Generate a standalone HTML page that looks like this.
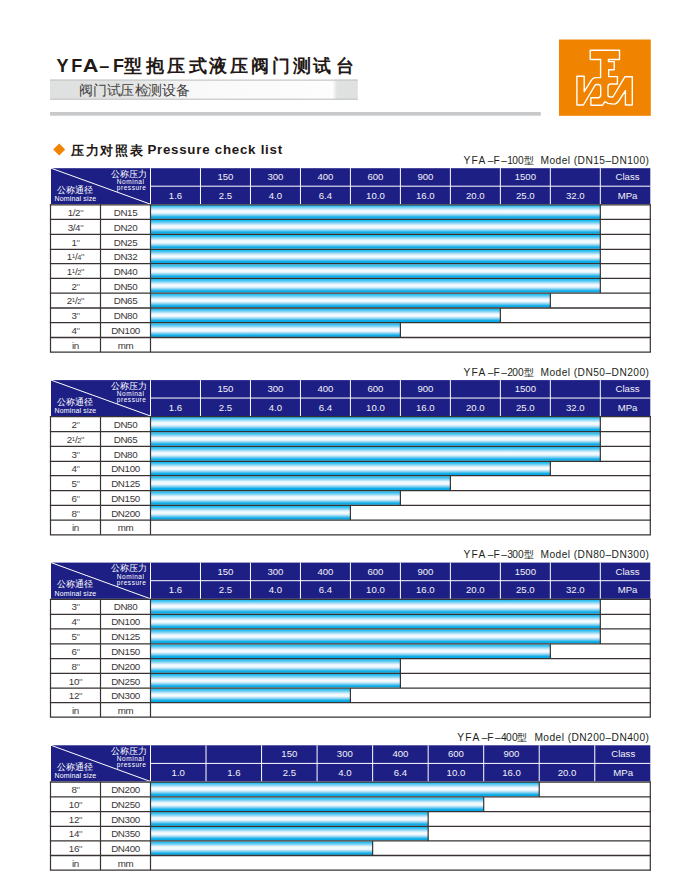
<!DOCTYPE html>
<html><head><meta charset="utf-8"><style>
html,body{margin:0;padding:0;background:#fff;}
body{width:696px;height:880px;position:relative;overflow:hidden;font-family:"Liberation Sans", sans-serif;}
svg{position:absolute;left:0;top:0;}
svg text{font-family:"Liberation Sans", sans-serif;}
.h{fill:#f2f2f8;font-size:9.6px;text-anchor:middle;}
.c{fill:#3a3636;font-size:9.8px;text-anchor:middle;letter-spacing:-0.35px}
.q{fill:#6e6a69;font-size:9.8px}
.cjk{fill:#fff;font-size:9px;}
.en{fill:#fff;font-size:7px;letter-spacing:0.15px}
.lbl2{fill:#231f20;font-size:10.2px;}
.lbl{fill:#231f20;font-size:10.2px;letter-spacing:0.45px}
.tl{fill:#231815;font-size:18px;font-weight:bold}
.tc{fill:#231815;font-size:17.6px;font-weight:bold}
.sb{fill:#454241;font-size:13.6px}
.hc{fill:#231815;font-size:13.2px;font-weight:bold}
.he{fill:#231815;font-size:13.3px;font-weight:bold;letter-spacing:0.75px}
.en2{fill:#fff;font-size:6.5px;letter-spacing:0.55px}
</style></head><body>
<svg width="696" height="880" viewBox="0 0 696 880">
<defs><linearGradient id="bar" x1="0" y1="0" x2="0" y2="1"><stop offset="0" stop-color="#0cb8ef"/><stop offset="0.08" stop-color="#2ec0f1"/><stop offset="0.25" stop-color="#9ad9f5"/><stop offset="0.38" stop-color="#e6f5fd"/><stop offset="0.5" stop-color="#f8fcff"/><stop offset="0.6" stop-color="#e2f3fb"/><stop offset="0.75" stop-color="#7ccdf1"/><stop offset="0.88" stop-color="#10afe9"/><stop offset="1" stop-color="#02a7e2"/></linearGradient></defs>
<rect x="51" y="168.2" width="599.30" height="36.00" fill="#1d1f85"/>
<line x1="150.50" y1="168.2" x2="150.50" y2="204.2" stroke="#fff" stroke-width="1"/>
<line x1="200.48" y1="168.2" x2="200.48" y2="204.2" stroke="#fff" stroke-width="1"/>
<line x1="250.46" y1="168.2" x2="250.46" y2="204.2" stroke="#fff" stroke-width="1"/>
<line x1="300.44" y1="168.2" x2="300.44" y2="204.2" stroke="#fff" stroke-width="1"/>
<line x1="350.42" y1="168.2" x2="350.42" y2="204.2" stroke="#fff" stroke-width="1"/>
<line x1="400.40" y1="168.2" x2="400.40" y2="204.2" stroke="#fff" stroke-width="1"/>
<line x1="450.38" y1="168.2" x2="450.38" y2="204.2" stroke="#fff" stroke-width="1"/>
<line x1="500.36" y1="168.2" x2="500.36" y2="204.2" stroke="#fff" stroke-width="1"/>
<line x1="550.34" y1="168.2" x2="550.34" y2="204.2" stroke="#fff" stroke-width="1"/>
<line x1="600.32" y1="168.2" x2="600.32" y2="204.2" stroke="#fff" stroke-width="1"/>
<line x1="150.5" y1="186.20" x2="650.3" y2="186.20" stroke="#fff" stroke-width="1"/>
<line x1="51" y1="168.2" x2="150.5" y2="204.2" stroke="#fff" stroke-width="1"/>
<text x="175.49" y="198.70" class="h">1.6</text>
<text x="225.47" y="180.10" class="h">150</text>
<text x="225.47" y="198.70" class="h">2.5</text>
<text x="275.45" y="180.10" class="h">300</text>
<text x="275.45" y="198.70" class="h">4.0</text>
<text x="325.43" y="180.10" class="h">400</text>
<text x="325.43" y="198.70" class="h">6.4</text>
<text x="375.41" y="180.10" class="h">600</text>
<text x="375.41" y="198.70" class="h">10.0</text>
<text x="425.39" y="180.10" class="h">900</text>
<text x="425.39" y="198.70" class="h">16.0</text>
<text x="475.37" y="198.70" class="h">20.0</text>
<text x="525.35" y="180.10" class="h">1500</text>
<text x="525.35" y="198.70" class="h">25.0</text>
<text x="575.33" y="198.70" class="h">32.0</text>
<text x="627.51" y="180.10" class="h">Class</text>
<text x="627.51" y="198.70" class="h">MPa</text>
<text x="111" y="176.70" class="cjk">公称压力</text>
<text x="116.8" y="184.30" class="en2">Nominal</text>
<text x="116.8" y="190.30" class="en2">pressure</text>
<text x="57.3" y="193.00" class="cjk">公称通径</text>
<text x="54.5" y="201.30" class="en">Nominal size</text>
<text x="649.4" y="164.00" class="lbl" text-anchor="end">Model (DN15–DN100)</text>
<text x="463.50 471.40 478.60 487.80 493.40 501.20 507.20 512.20 518.10 523.60" y="164.00" class="lbl2">YFA–F–100型</text>
<rect x="150.5" y="204.80" width="449.82" height="14.00" fill="url(#bar)"/>
<line x1="600.32" y1="204.2" x2="600.32" y2="219.4" stroke="#383332" stroke-width="1.2"/>
<text x="75.5" y="215.60" class="c">1/2<tspan class="q">&#34;</tspan></text>
<text x="125.5" y="215.60" class="c">DN15</text>
<rect x="150.5" y="220.00" width="449.82" height="13.80" fill="url(#bar)"/>
<line x1="600.32" y1="219.4" x2="600.32" y2="234.4" stroke="#383332" stroke-width="1.2"/>
<text x="75.5" y="230.70" class="c">3/4<tspan class="q">&#34;</tspan></text>
<text x="125.5" y="230.70" class="c">DN20</text>
<rect x="150.5" y="235.00" width="449.82" height="13.70" fill="url(#bar)"/>
<line x1="600.32" y1="234.4" x2="600.32" y2="249.3" stroke="#383332" stroke-width="1.2"/>
<text x="75.5" y="245.65" class="c">1<tspan class="q">&#34;</tspan></text>
<text x="125.5" y="245.65" class="c">DN25</text>
<rect x="150.5" y="249.90" width="449.82" height="13.20" fill="url(#bar)"/>
<line x1="600.32" y1="249.3" x2="600.32" y2="263.7" stroke="#383332" stroke-width="1.2"/>
<text x="75.5" y="260.30" class="c">1<tspan font-size="6.2" dy="-2.2">1</tspan><tspan dy="2.2">/</tspan><tspan font-size="7.4">4</tspan><tspan class="q">&#34;</tspan></text>
<text x="125.5" y="260.30" class="c">DN32</text>
<rect x="150.5" y="264.30" width="449.82" height="13.50" fill="url(#bar)"/>
<line x1="600.32" y1="263.7" x2="600.32" y2="278.4" stroke="#383332" stroke-width="1.2"/>
<text x="75.5" y="274.85" class="c">1<tspan font-size="6.2" dy="-2.2">1</tspan><tspan dy="2.2">/</tspan><tspan font-size="7.4">2</tspan><tspan class="q">&#34;</tspan></text>
<text x="125.5" y="274.85" class="c">DN40</text>
<rect x="150.5" y="279.00" width="449.82" height="13.50" fill="url(#bar)"/>
<line x1="600.32" y1="278.4" x2="600.32" y2="293.1" stroke="#383332" stroke-width="1.2"/>
<text x="75.5" y="289.55" class="c">2<tspan class="q">&#34;</tspan></text>
<text x="125.5" y="289.55" class="c">DN50</text>
<rect x="150.5" y="293.70" width="399.84" height="13.70" fill="url(#bar)"/>
<line x1="550.34" y1="293.1" x2="550.34" y2="308.0" stroke="#383332" stroke-width="1.2"/>
<text x="75.5" y="304.35" class="c">2<tspan font-size="6.2" dy="-2.2">1</tspan><tspan dy="2.2">/</tspan><tspan font-size="7.4">2</tspan><tspan class="q">&#34;</tspan></text>
<text x="125.5" y="304.35" class="c">DN65</text>
<rect x="150.5" y="308.60" width="349.86" height="13.50" fill="url(#bar)"/>
<line x1="500.36" y1="308.0" x2="500.36" y2="322.7" stroke="#383332" stroke-width="1.2"/>
<text x="75.5" y="319.15" class="c">3<tspan class="q">&#34;</tspan></text>
<text x="125.5" y="319.15" class="c">DN80</text>
<rect x="150.5" y="323.30" width="249.90" height="13.60" fill="url(#bar)"/>
<line x1="400.40" y1="322.7" x2="400.40" y2="337.5" stroke="#383332" stroke-width="1.2"/>
<text x="75.5" y="333.90" class="c">4<tspan class="q">&#34;</tspan></text>
<text x="125.5" y="333.90" class="c">DN100</text>
<text x="75.5" y="348.60" class="c">in</text>
<text x="125.5" y="348.60" class="c">mm</text>
<line x1="49.9" y1="204.80" x2="650.9" y2="204.80" stroke="#383332" stroke-width="1.2"/>
<line x1="49.9" y1="219.4" x2="650.9" y2="219.4" stroke="#383332" stroke-width="1.3"/>
<line x1="49.9" y1="234.4" x2="650.9" y2="234.4" stroke="#383332" stroke-width="1.3"/>
<line x1="49.9" y1="249.3" x2="650.9" y2="249.3" stroke="#383332" stroke-width="1.3"/>
<line x1="49.9" y1="263.7" x2="650.9" y2="263.7" stroke="#383332" stroke-width="1.3"/>
<line x1="49.9" y1="278.4" x2="650.9" y2="278.4" stroke="#383332" stroke-width="1.3"/>
<line x1="49.9" y1="293.1" x2="650.9" y2="293.1" stroke="#383332" stroke-width="1.3"/>
<line x1="49.9" y1="308.0" x2="650.9" y2="308.0" stroke="#383332" stroke-width="1.3"/>
<line x1="49.9" y1="322.7" x2="650.9" y2="322.7" stroke="#383332" stroke-width="1.3"/>
<line x1="49.9" y1="337.5" x2="650.9" y2="337.5" stroke="#383332" stroke-width="1.3"/>
<line x1="49.9" y1="352.1" x2="650.9" y2="352.1" stroke="#383332" stroke-width="1.3"/>
<line x1="50.5" y1="204.2" x2="50.5" y2="352.1" stroke="#383332" stroke-width="1.2"/>
<line x1="100.5" y1="204.2" x2="100.5" y2="352.1" stroke="#383332" stroke-width="1.2"/>
<line x1="150.5" y1="204.2" x2="150.5" y2="352.1" stroke="#383332" stroke-width="1.2"/>
<line x1="650.3" y1="204.2" x2="650.3" y2="352.1" stroke="#383332" stroke-width="1.2"/>
<rect x="51" y="380.1" width="599.30" height="35.90" fill="#1d1f85"/>
<line x1="150.50" y1="380.1" x2="150.50" y2="416.0" stroke="#fff" stroke-width="1"/>
<line x1="200.48" y1="380.1" x2="200.48" y2="416.0" stroke="#fff" stroke-width="1"/>
<line x1="250.46" y1="380.1" x2="250.46" y2="416.0" stroke="#fff" stroke-width="1"/>
<line x1="300.44" y1="380.1" x2="300.44" y2="416.0" stroke="#fff" stroke-width="1"/>
<line x1="350.42" y1="380.1" x2="350.42" y2="416.0" stroke="#fff" stroke-width="1"/>
<line x1="400.40" y1="380.1" x2="400.40" y2="416.0" stroke="#fff" stroke-width="1"/>
<line x1="450.38" y1="380.1" x2="450.38" y2="416.0" stroke="#fff" stroke-width="1"/>
<line x1="500.36" y1="380.1" x2="500.36" y2="416.0" stroke="#fff" stroke-width="1"/>
<line x1="550.34" y1="380.1" x2="550.34" y2="416.0" stroke="#fff" stroke-width="1"/>
<line x1="600.32" y1="380.1" x2="600.32" y2="416.0" stroke="#fff" stroke-width="1"/>
<line x1="150.5" y1="398.05" x2="650.3" y2="398.05" stroke="#fff" stroke-width="1"/>
<line x1="51" y1="380.1" x2="150.5" y2="416.0" stroke="#fff" stroke-width="1"/>
<text x="175.49" y="410.55" class="h">1.6</text>
<text x="225.47" y="392.00" class="h">150</text>
<text x="225.47" y="410.55" class="h">2.5</text>
<text x="275.45" y="392.00" class="h">300</text>
<text x="275.45" y="410.55" class="h">4.0</text>
<text x="325.43" y="392.00" class="h">400</text>
<text x="325.43" y="410.55" class="h">6.4</text>
<text x="375.41" y="392.00" class="h">600</text>
<text x="375.41" y="410.55" class="h">10.0</text>
<text x="425.39" y="392.00" class="h">900</text>
<text x="425.39" y="410.55" class="h">16.0</text>
<text x="475.37" y="410.55" class="h">20.0</text>
<text x="525.35" y="392.00" class="h">1500</text>
<text x="525.35" y="410.55" class="h">25.0</text>
<text x="575.33" y="410.55" class="h">32.0</text>
<text x="627.51" y="392.00" class="h">Class</text>
<text x="627.51" y="410.55" class="h">MPa</text>
<text x="111" y="388.60" class="cjk">公称压力</text>
<text x="116.8" y="396.20" class="en2">Nominal</text>
<text x="116.8" y="402.20" class="en2">pressure</text>
<text x="57.3" y="404.90" class="cjk">公称通径</text>
<text x="54.5" y="413.20" class="en">Nominal size</text>
<text x="649.4" y="375.90" class="lbl" text-anchor="end">Model (DN50–DN200)</text>
<text x="463.50 471.40 478.60 487.80 493.40 501.20 507.20 512.20 518.10 523.60" y="375.90" class="lbl2">YFA–F–200型</text>
<rect x="150.5" y="416.60" width="449.82" height="14.50" fill="url(#bar)"/>
<line x1="600.32" y1="416.0" x2="600.32" y2="431.7" stroke="#383332" stroke-width="1.2"/>
<text x="75.5" y="427.65" class="c">2<tspan class="q">&#34;</tspan></text>
<text x="125.5" y="427.65" class="c">DN50</text>
<rect x="150.5" y="432.30" width="449.82" height="13.40" fill="url(#bar)"/>
<line x1="600.32" y1="431.7" x2="600.32" y2="446.3" stroke="#383332" stroke-width="1.2"/>
<text x="75.5" y="442.80" class="c">2<tspan font-size="6.2" dy="-2.2">1</tspan><tspan dy="2.2">/</tspan><tspan font-size="7.4">2</tspan><tspan class="q">&#34;</tspan></text>
<text x="125.5" y="442.80" class="c">DN65</text>
<rect x="150.5" y="446.90" width="449.82" height="13.90" fill="url(#bar)"/>
<line x1="600.32" y1="446.3" x2="600.32" y2="461.4" stroke="#383332" stroke-width="1.2"/>
<text x="75.5" y="457.65" class="c">3<tspan class="q">&#34;</tspan></text>
<text x="125.5" y="457.65" class="c">DN80</text>
<rect x="150.5" y="462.00" width="399.84" height="13.10" fill="url(#bar)"/>
<line x1="550.34" y1="461.4" x2="550.34" y2="475.7" stroke="#383332" stroke-width="1.2"/>
<text x="75.5" y="472.35" class="c">4<tspan class="q">&#34;</tspan></text>
<text x="125.5" y="472.35" class="c">DN100</text>
<rect x="150.5" y="476.30" width="299.88" height="13.80" fill="url(#bar)"/>
<line x1="450.38" y1="475.7" x2="450.38" y2="490.7" stroke="#383332" stroke-width="1.2"/>
<text x="75.5" y="487.00" class="c">5<tspan class="q">&#34;</tspan></text>
<text x="125.5" y="487.00" class="c">DN125</text>
<rect x="150.5" y="491.30" width="249.90" height="13.50" fill="url(#bar)"/>
<line x1="400.40" y1="490.7" x2="400.40" y2="505.4" stroke="#383332" stroke-width="1.2"/>
<text x="75.5" y="501.85" class="c">6<tspan class="q">&#34;</tspan></text>
<text x="125.5" y="501.85" class="c">DN150</text>
<rect x="150.5" y="506.00" width="199.92" height="13.60" fill="url(#bar)"/>
<line x1="350.42" y1="505.4" x2="350.42" y2="520.2" stroke="#383332" stroke-width="1.2"/>
<text x="75.5" y="516.60" class="c">8<tspan class="q">&#34;</tspan></text>
<text x="125.5" y="516.60" class="c">DN200</text>
<text x="75.5" y="531.30" class="c">in</text>
<text x="125.5" y="531.30" class="c">mm</text>
<line x1="49.9" y1="416.60" x2="650.9" y2="416.60" stroke="#383332" stroke-width="1.2"/>
<line x1="49.9" y1="431.7" x2="650.9" y2="431.7" stroke="#383332" stroke-width="1.3"/>
<line x1="49.9" y1="446.3" x2="650.9" y2="446.3" stroke="#383332" stroke-width="1.3"/>
<line x1="49.9" y1="461.4" x2="650.9" y2="461.4" stroke="#383332" stroke-width="1.3"/>
<line x1="49.9" y1="475.7" x2="650.9" y2="475.7" stroke="#383332" stroke-width="1.3"/>
<line x1="49.9" y1="490.7" x2="650.9" y2="490.7" stroke="#383332" stroke-width="1.3"/>
<line x1="49.9" y1="505.4" x2="650.9" y2="505.4" stroke="#383332" stroke-width="1.3"/>
<line x1="49.9" y1="520.2" x2="650.9" y2="520.2" stroke="#383332" stroke-width="1.3"/>
<line x1="49.9" y1="534.8" x2="650.9" y2="534.8" stroke="#383332" stroke-width="1.3"/>
<line x1="50.5" y1="416.0" x2="50.5" y2="534.8" stroke="#383332" stroke-width="1.2"/>
<line x1="100.5" y1="416.0" x2="100.5" y2="534.8" stroke="#383332" stroke-width="1.2"/>
<line x1="150.5" y1="416.0" x2="150.5" y2="534.8" stroke="#383332" stroke-width="1.2"/>
<line x1="650.3" y1="416.0" x2="650.3" y2="534.8" stroke="#383332" stroke-width="1.2"/>
<rect x="51" y="562.6" width="599.30" height="36.20" fill="#1d1f85"/>
<line x1="150.50" y1="562.6" x2="150.50" y2="598.8" stroke="#fff" stroke-width="1"/>
<line x1="200.48" y1="562.6" x2="200.48" y2="598.8" stroke="#fff" stroke-width="1"/>
<line x1="250.46" y1="562.6" x2="250.46" y2="598.8" stroke="#fff" stroke-width="1"/>
<line x1="300.44" y1="562.6" x2="300.44" y2="598.8" stroke="#fff" stroke-width="1"/>
<line x1="350.42" y1="562.6" x2="350.42" y2="598.8" stroke="#fff" stroke-width="1"/>
<line x1="400.40" y1="562.6" x2="400.40" y2="598.8" stroke="#fff" stroke-width="1"/>
<line x1="450.38" y1="562.6" x2="450.38" y2="598.8" stroke="#fff" stroke-width="1"/>
<line x1="500.36" y1="562.6" x2="500.36" y2="598.8" stroke="#fff" stroke-width="1"/>
<line x1="550.34" y1="562.6" x2="550.34" y2="598.8" stroke="#fff" stroke-width="1"/>
<line x1="600.32" y1="562.6" x2="600.32" y2="598.8" stroke="#fff" stroke-width="1"/>
<line x1="150.5" y1="580.70" x2="650.3" y2="580.70" stroke="#fff" stroke-width="1"/>
<line x1="51" y1="562.6" x2="150.5" y2="598.8" stroke="#fff" stroke-width="1"/>
<text x="175.49" y="593.20" class="h">1.6</text>
<text x="225.47" y="574.50" class="h">150</text>
<text x="225.47" y="593.20" class="h">2.5</text>
<text x="275.45" y="574.50" class="h">300</text>
<text x="275.45" y="593.20" class="h">4.0</text>
<text x="325.43" y="574.50" class="h">400</text>
<text x="325.43" y="593.20" class="h">6.4</text>
<text x="375.41" y="574.50" class="h">600</text>
<text x="375.41" y="593.20" class="h">10.0</text>
<text x="425.39" y="574.50" class="h">900</text>
<text x="425.39" y="593.20" class="h">16.0</text>
<text x="475.37" y="593.20" class="h">20.0</text>
<text x="525.35" y="574.50" class="h">1500</text>
<text x="525.35" y="593.20" class="h">25.0</text>
<text x="575.33" y="593.20" class="h">32.0</text>
<text x="627.51" y="574.50" class="h">Class</text>
<text x="627.51" y="593.20" class="h">MPa</text>
<text x="111" y="571.10" class="cjk">公称压力</text>
<text x="116.8" y="578.70" class="en2">Nominal</text>
<text x="116.8" y="584.70" class="en2">pressure</text>
<text x="57.3" y="587.40" class="cjk">公称通径</text>
<text x="54.5" y="595.70" class="en">Nominal size</text>
<text x="649.4" y="558.40" class="lbl" text-anchor="end">Model (DN80–DN300)</text>
<text x="463.50 471.40 478.60 487.80 493.40 501.20 507.20 512.20 518.10 523.60" y="558.40" class="lbl2">YFA–F–300型</text>
<rect x="150.5" y="599.40" width="449.82" height="14.30" fill="url(#bar)"/>
<line x1="600.32" y1="598.8" x2="600.32" y2="614.3" stroke="#383332" stroke-width="1.2"/>
<text x="75.5" y="610.35" class="c">3<tspan class="q">&#34;</tspan></text>
<text x="125.5" y="610.35" class="c">DN80</text>
<rect x="150.5" y="614.90" width="449.82" height="13.40" fill="url(#bar)"/>
<line x1="600.32" y1="614.3" x2="600.32" y2="628.9" stroke="#383332" stroke-width="1.2"/>
<text x="75.5" y="625.40" class="c">4<tspan class="q">&#34;</tspan></text>
<text x="125.5" y="625.40" class="c">DN100</text>
<rect x="150.5" y="629.50" width="449.82" height="13.80" fill="url(#bar)"/>
<line x1="600.32" y1="628.9" x2="600.32" y2="643.9" stroke="#383332" stroke-width="1.2"/>
<text x="75.5" y="640.20" class="c">5<tspan class="q">&#34;</tspan></text>
<text x="125.5" y="640.20" class="c">DN125</text>
<rect x="150.5" y="644.50" width="399.84" height="13.50" fill="url(#bar)"/>
<line x1="550.34" y1="643.9" x2="550.34" y2="658.6" stroke="#383332" stroke-width="1.2"/>
<text x="75.5" y="655.05" class="c">6<tspan class="q">&#34;</tspan></text>
<text x="125.5" y="655.05" class="c">DN150</text>
<rect x="150.5" y="659.20" width="249.90" height="13.60" fill="url(#bar)"/>
<line x1="400.40" y1="658.6" x2="400.40" y2="673.4" stroke="#383332" stroke-width="1.2"/>
<text x="75.5" y="669.80" class="c">8<tspan class="q">&#34;</tspan></text>
<text x="125.5" y="669.80" class="c">DN200</text>
<rect x="150.5" y="674.00" width="249.90" height="13.50" fill="url(#bar)"/>
<line x1="400.40" y1="673.4" x2="400.40" y2="688.1" stroke="#383332" stroke-width="1.2"/>
<text x="75.5" y="684.55" class="c">10<tspan class="q">&#34;</tspan></text>
<text x="125.5" y="684.55" class="c">DN250</text>
<rect x="150.5" y="688.70" width="199.92" height="13.30" fill="url(#bar)"/>
<line x1="350.42" y1="688.1" x2="350.42" y2="702.6" stroke="#383332" stroke-width="1.2"/>
<text x="75.5" y="699.15" class="c">12<tspan class="q">&#34;</tspan></text>
<text x="125.5" y="699.15" class="c">DN300</text>
<text x="75.5" y="713.65" class="c">in</text>
<text x="125.5" y="713.65" class="c">mm</text>
<line x1="49.9" y1="599.40" x2="650.9" y2="599.40" stroke="#383332" stroke-width="1.2"/>
<line x1="49.9" y1="614.3" x2="650.9" y2="614.3" stroke="#383332" stroke-width="1.3"/>
<line x1="49.9" y1="628.9" x2="650.9" y2="628.9" stroke="#383332" stroke-width="1.3"/>
<line x1="49.9" y1="643.9" x2="650.9" y2="643.9" stroke="#383332" stroke-width="1.3"/>
<line x1="49.9" y1="658.6" x2="650.9" y2="658.6" stroke="#383332" stroke-width="1.3"/>
<line x1="49.9" y1="673.4" x2="650.9" y2="673.4" stroke="#383332" stroke-width="1.3"/>
<line x1="49.9" y1="688.1" x2="650.9" y2="688.1" stroke="#383332" stroke-width="1.3"/>
<line x1="49.9" y1="702.6" x2="650.9" y2="702.6" stroke="#383332" stroke-width="1.3"/>
<line x1="49.9" y1="717.1" x2="650.9" y2="717.1" stroke="#383332" stroke-width="1.3"/>
<line x1="50.5" y1="598.8" x2="50.5" y2="717.1" stroke="#383332" stroke-width="1.2"/>
<line x1="100.5" y1="598.8" x2="100.5" y2="717.1" stroke="#383332" stroke-width="1.2"/>
<line x1="150.5" y1="598.8" x2="150.5" y2="717.1" stroke="#383332" stroke-width="1.2"/>
<line x1="650.3" y1="598.8" x2="650.3" y2="717.1" stroke="#383332" stroke-width="1.2"/>
<rect x="51" y="745.3" width="599.30" height="36.20" fill="#1d1f85"/>
<line x1="150.50" y1="745.3" x2="150.50" y2="781.5" stroke="#fff" stroke-width="1"/>
<line x1="206.03" y1="745.3" x2="206.03" y2="781.5" stroke="#fff" stroke-width="1"/>
<line x1="261.57" y1="745.3" x2="261.57" y2="781.5" stroke="#fff" stroke-width="1"/>
<line x1="317.10" y1="745.3" x2="317.10" y2="781.5" stroke="#fff" stroke-width="1"/>
<line x1="372.63" y1="745.3" x2="372.63" y2="781.5" stroke="#fff" stroke-width="1"/>
<line x1="428.17" y1="745.3" x2="428.17" y2="781.5" stroke="#fff" stroke-width="1"/>
<line x1="483.70" y1="745.3" x2="483.70" y2="781.5" stroke="#fff" stroke-width="1"/>
<line x1="539.23" y1="745.3" x2="539.23" y2="781.5" stroke="#fff" stroke-width="1"/>
<line x1="594.77" y1="745.3" x2="594.77" y2="781.5" stroke="#fff" stroke-width="1"/>
<line x1="150.5" y1="763.40" x2="650.3" y2="763.40" stroke="#fff" stroke-width="1"/>
<line x1="51" y1="745.3" x2="150.5" y2="781.5" stroke="#fff" stroke-width="1"/>
<text x="178.27" y="775.90" class="h">1.0</text>
<text x="233.80" y="775.90" class="h">1.6</text>
<text x="289.33" y="757.20" class="h">150</text>
<text x="289.33" y="775.90" class="h">2.5</text>
<text x="344.87" y="757.20" class="h">300</text>
<text x="344.87" y="775.90" class="h">4.0</text>
<text x="400.40" y="757.20" class="h">400</text>
<text x="400.40" y="775.90" class="h">6.4</text>
<text x="455.93" y="757.20" class="h">600</text>
<text x="455.93" y="775.90" class="h">10.0</text>
<text x="511.47" y="757.20" class="h">900</text>
<text x="511.47" y="775.90" class="h">16.0</text>
<text x="567.00" y="775.90" class="h">20.0</text>
<text x="623.23" y="757.20" class="h">Class</text>
<text x="623.23" y="775.90" class="h">MPa</text>
<text x="111" y="753.80" class="cjk">公称压力</text>
<text x="116.8" y="761.40" class="en2">Nominal</text>
<text x="116.8" y="767.40" class="en2">pressure</text>
<text x="57.3" y="770.10" class="cjk">公称通径</text>
<text x="54.5" y="778.40" class="en">Nominal size</text>
<text x="649.4" y="741.10" class="lbl" text-anchor="end">Model (DN200–DN400)</text>
<text x="457.37 465.27 472.47 481.67 487.27 495.07 501.07 506.07 511.97 517.47" y="741.10" class="lbl2">YFA–F–400型</text>
<rect x="150.5" y="782.10" width="388.73" height="14.20" fill="url(#bar)"/>
<line x1="539.23" y1="781.5" x2="539.23" y2="796.9" stroke="#383332" stroke-width="1.2"/>
<text x="75.5" y="793.00" class="c">8<tspan class="q">&#34;</tspan></text>
<text x="125.5" y="793.00" class="c">DN200</text>
<rect x="150.5" y="797.50" width="333.20" height="13.50" fill="url(#bar)"/>
<line x1="483.70" y1="796.9" x2="483.70" y2="811.6" stroke="#383332" stroke-width="1.2"/>
<text x="75.5" y="808.05" class="c">10<tspan class="q">&#34;</tspan></text>
<text x="125.5" y="808.05" class="c">DN250</text>
<rect x="150.5" y="812.20" width="277.67" height="13.60" fill="url(#bar)"/>
<line x1="428.17" y1="811.6" x2="428.17" y2="826.4" stroke="#383332" stroke-width="1.2"/>
<text x="75.5" y="822.80" class="c">12<tspan class="q">&#34;</tspan></text>
<text x="125.5" y="822.80" class="c">DN300</text>
<rect x="150.5" y="827.00" width="277.67" height="13.30" fill="url(#bar)"/>
<line x1="428.17" y1="826.4" x2="428.17" y2="840.9" stroke="#383332" stroke-width="1.2"/>
<text x="75.5" y="837.45" class="c">14<tspan class="q">&#34;</tspan></text>
<text x="125.5" y="837.45" class="c">DN350</text>
<rect x="150.5" y="841.50" width="222.13" height="13.40" fill="url(#bar)"/>
<line x1="372.63" y1="840.9" x2="372.63" y2="855.5" stroke="#383332" stroke-width="1.2"/>
<text x="75.5" y="852.00" class="c">16<tspan class="q">&#34;</tspan></text>
<text x="125.5" y="852.00" class="c">DN400</text>
<text x="75.5" y="866.65" class="c">in</text>
<text x="125.5" y="866.65" class="c">mm</text>
<line x1="49.9" y1="782.10" x2="650.9" y2="782.10" stroke="#383332" stroke-width="1.2"/>
<line x1="49.9" y1="796.9" x2="650.9" y2="796.9" stroke="#383332" stroke-width="1.3"/>
<line x1="49.9" y1="811.6" x2="650.9" y2="811.6" stroke="#383332" stroke-width="1.3"/>
<line x1="49.9" y1="826.4" x2="650.9" y2="826.4" stroke="#383332" stroke-width="1.3"/>
<line x1="49.9" y1="840.9" x2="650.9" y2="840.9" stroke="#383332" stroke-width="1.3"/>
<line x1="49.9" y1="855.5" x2="650.9" y2="855.5" stroke="#383332" stroke-width="1.3"/>
<line x1="49.9" y1="870.2" x2="650.9" y2="870.2" stroke="#383332" stroke-width="1.3"/>
<line x1="50.5" y1="781.5" x2="50.5" y2="870.2" stroke="#383332" stroke-width="1.2"/>
<line x1="100.5" y1="781.5" x2="100.5" y2="870.2" stroke="#383332" stroke-width="1.2"/>
<line x1="150.5" y1="781.5" x2="150.5" y2="870.2" stroke="#383332" stroke-width="1.2"/>
<line x1="650.3" y1="781.5" x2="650.3" y2="870.2" stroke="#383332" stroke-width="1.2"/>
<linearGradient id="gb" x1="0" y1="0" x2="1" y2="0"><stop offset="0" stop-color="#dfe0e0"/><stop offset="0.25" stop-color="#e1e2e2"/><stop offset="0.47" stop-color="#f9f9f9"/><stop offset="0.918" stop-color="#fdfdfd"/><stop offset="0.932" stop-color="#e0e1e1"/><stop offset="1" stop-color="#dfe0e0"/></linearGradient>
<rect x="50" y="79.5" width="307.8" height="20.4" fill="url(#gb)"/>
<rect x="50" y="79.5" width="307.8" height="1.3" fill="#c9caca"/>
<rect x="50" y="98.6" width="307.8" height="1.3" fill="#c9caca"/>
<rect x="50" y="112" width="490.8" height="3.7" fill="#c8c9ca"/>
<rect x="559" y="39.5" width="91.8" height="76.3" fill="#f08300"/>
<path fill="none" stroke="#fff" stroke-width="1.4" stroke-linejoin="round" d="M576.9,76.2 H584.2 V91.6 L591.8,79.6 Q593.5,77.6 595.4,77.6 H600.6 V59.5 H590.2 V50.2 H619.5 V59.5 H608.4 V61.6 H614.2 V69.8 H608.7 V76.6 H617.4 V84 H610.7 Q608,84 608,87 V95 Q608,97 610.2,97 H612.9 L625,76.7 H632.3 V105 H625.4 V90.7 L618.7,101 Q616.5,104.2 613.4,104.1 L608,103.4 L604.9,101.6 L602.5,105.2 H590.9 V97.8 H598 Q600.7,97.6 600.7,95 V87 Q600.7,84.5 598,84.5 H596.5 Q595.4,84.5 594.8,85.6 L583.4,105 H576.9 Z"/>
<text class="tl" y="71.8" x="56.6 71.2 99.2 112.9">YF–F</text>
<text class="tl" y="71.8" x="0" transform="translate(82.7,0) scale(1.2,1)">A</text>
<text class="tc" y="72.2" x="123.8 146.1 166.9 188.5 208.8 230.1 250.8 272.0 292.7 313.4 336.0">型抱压式液压阀门测试台</text>
<text class="sb" y="94.6" x="78.5 93.2 107.0 120.4 134.5 148.3 162.1 175.9">阀门试压检测设备</text>
<text class="hc" y="154.8" x="70.6 85.5 100.3 115.2 130.0">压力对照表</text>
<text class="he" y="154.3" x="147.4">Pressure check list</text>
<path d="M59.2,143.6 L65.2,149.6 L59.2,155.6 L53.2,149.6 Z" fill="#f08300"/>
</svg>
</body></html>
